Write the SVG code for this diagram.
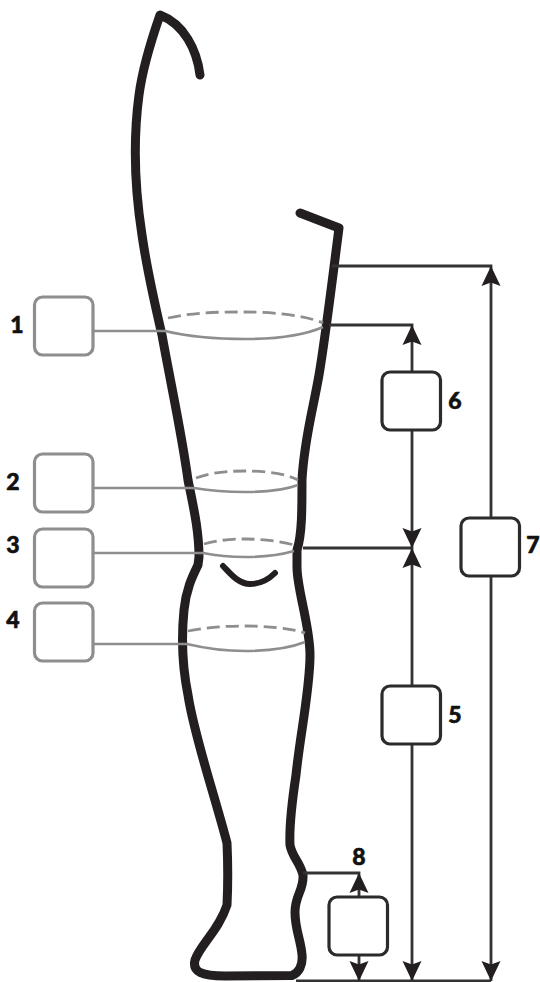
<svg xmlns="http://www.w3.org/2000/svg" width="540" height="982" viewBox="0 0 540 982">
<style>
.leg{fill:none;stroke:#231f20;stroke-width:9;stroke-linecap:round;stroke-linejoin:round}
.thin{fill:none;stroke:#333;stroke-width:2.800}
.g{fill:none;stroke:#8e8e8e;stroke-width:2.600}
.d{fill:none;stroke:#8e8e8e;stroke-width:2.800;stroke-dasharray:13 6}
.bg{fill:#fff;stroke:#8e8e8e;stroke-width:3.200}
.bd{fill:#fff;stroke:#2b2b2b;stroke-width:3.200}
text{font-family:"Lato","Liberation Sans",sans-serif;font-weight:900;font-size:23px;fill:#111;stroke:#111;stroke-width:.6;text-anchor:middle}
</style>
<defs>
<path id="up" d="M0 0L9.500 20L0 16.500L-9.500 20Z" fill="#231f20"/>
<path id="down" d="M0 0L9.500 -20L0 -16.500L-9.500 -20Z" fill="#231f20"/>
</defs>
<g id="leg">
<path class="leg" d="M200 75C197 50 184 24 160 15C152 38 143 65 139 95C133 140 135 190 142 235C147 270 155 305 162 335C171 385 182 435 188 480C193 505 199 530 199 557L198 565C192 577 186 590 184 610C181 640 183 670 188 695C194 735 213 790 227 843C228 865 228 885 227 905C219 930 200 945 195 960C192 972 202 976 225 976L292 975.500C299 973 303 965 302 955C301 940 295 930 295 912C295 895 304 890 303 875C300 862 292 857 290 845C289 825 293 795 296 775C300 735 310 690 310 655C310 625 297 590 297 567L297 550C302 535 302 510 302 480C304 440 313 410 319 375C325 340 331 290 339 228L300 213"/>
<path class="leg" style="stroke-width:6" d="M223 566C230 573 238 584 250 584C259 584 268 580 275 573"/>
</g>
<g id="rings">
<path class="d" d="M168 318C195 312 220 312 245 312C272 312 305 315 323 323"/>
<path class="g" d="M165 331C190 337 220 339 245 339C275 339 305 335 323 327"/>
<path class="d" d="M196 478C212 472 230 471 245 471C262 471 285 473 298 480"/>
<path class="g" d="M194 488C212 491 230 492 245 492C265 492 285 490 298 485"/>
<path class="d" d="M204 544C218 540 232 539 245 539C260 539 280 541 294 545"/>
<path class="g" d="M203 553C218 556 232 557 245 557C262 557 280 555 294 551"/>
<path class="d" d="M188 631C208 627 228 626 245 626C265 626 290 628 305 633"/>
<path class="g" d="M187 644C208 649 228 651 245 651C268 651 290 648 305 642"/>
</g>
<g id="connectors">
<path class="g" d="M93 331H165M93 488H195M93 553H204M93 644H188"/>
<path class="thin" d="M332 266H491V981M329 325H412V548M303 548H412V981M303 873H359V981M296 981H491"/>
<use href="#up" x="491" y="266"/>
<use href="#down" x="491" y="981"/>
<use href="#up" x="412" y="325"/>
<use href="#down" x="412" y="548"/>
<use href="#up" x="412" y="548"/>
<use href="#down" x="412" y="981"/>
<use href="#up" x="359" y="873"/>
<use href="#down" x="359" y="981"/>
</g>
<g id="box1"><rect class="bg" x="34.500" y="297" width="58.500" height="58" rx="8"/><text x="17" y="333">1</text></g>
<g id="box2"><rect class="bg" x="34.500" y="454" width="58.500" height="58" rx="8"/><text x="13" y="490">2</text></g>
<g id="box3"><rect class="bg" x="34.500" y="529" width="58.500" height="58" rx="8"/><text x="13" y="553">3</text></g>
<g id="box4"><rect class="bg" x="34.500" y="603" width="58.500" height="58" rx="8"/><text x="13" y="628">4</text></g>
<g id="box5"><rect class="bd" x="382" y="686" width="58.500" height="58" rx="8"/><text x="455" y="723">5</text></g>
<g id="box6"><rect class="bd" x="382" y="372" width="58.500" height="58" rx="8"/><text x="455" y="409">6</text></g>
<g id="box7"><rect class="bd" x="461" y="518" width="58.500" height="58" rx="8"/><text x="533" y="553">7</text></g>
<g id="box8"><rect class="bd" x="329" y="897" width="58.500" height="58" rx="8"/><text x="359" y="865">8</text></g>
</svg>
